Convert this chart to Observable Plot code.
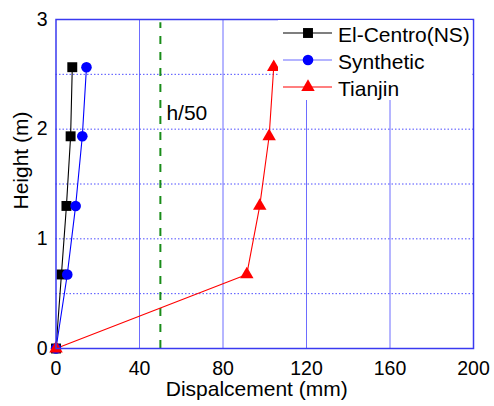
<!DOCTYPE html>
<html>
<head>
<meta charset="utf-8">
<script src="https://cdn.jsdelivr.net/npm/d3@7"></script>
<script src="https://cdn.jsdelivr.net/npm/@observablehq/plot@0.6"></script>
<style>
  html, body { margin: 0; padding: 0; background: #fff; }
  #wrap { position: relative; width: 494px; height: 406px; }
  #wrap svg { display: block; }
  #legend { position: absolute; left: 0; top: 0; pointer-events: none; }
</style>
</head>
<body>
<div id="wrap"></div>
<script>
// ---- data ----
const heights = [0, 0.675, 1.30, 1.935, 2.565];            // m
const elCentro = [0, 2.6, 5.0, 7.0, 7.8];                  // mm
const synthetic = [0, 5.4, 9.4, 12.6, 14.6];               // mm
const tianjin = [0, 91.4, 97.6, 102.1, 104.3];             // mm
const seriesNames = ["El-Centro(NS)", "Synthetic", "Tianjin"];
const seriesColors = ["#000000", "#0000ff", "#ff0000"];
const seriesSymbols = ["square", "circle", "triangle"];
const xTicks = [0, 40, 80, 120, 160, 200];
const yTicks = [0, 1, 2, 3];
const xGrid = [40, 80, 120, 160];
const yGrid = [0.5, 1, 1.5, 2, 2.5];
const limitX = 50;          // h/50 drift limit (mm)
const limitLabel = "h/50";
const limitLabelY = 2.08;
const xLabel = "Dispalcement (mm)";
const yLabel = "Height (m)";

const seriesValues = [elCentro, synthetic, tianjin];
const rows = seriesValues.flatMap((vals, si) =>
  vals.map((v, i) => ({series: seriesNames[si], x: v, y: heights[i]})));

const font = "'Liberation Sans', Arial, sans-serif";
const symbolR = {square: 5.6, circle: 5.3, triangle: 5.0};

const marks = [
  Plot.ruleX(xGrid, {stroke: "#6d6dff", strokeWidth: 1}),
  Plot.ruleY(yGrid, {stroke: "#4d4dff", strokeWidth: 1, strokeDasharray: "1.5,2"}),
  Plot.ruleX([limitX], {stroke: "#198c19", strokeWidth: 2, strokeDasharray: "8,8", y1: 0, y2: 2.97}),
  Plot.text([limitLabel], {x: limitX, y: limitLabelY, text: d => d, textAnchor: "start", dx: 6,
    fontSize: 21, fill: "#000", lineAnchor: "bottom"}),
];
seriesNames.forEach((name, si) => {
  const data = rows.filter(d => d.series === name);
  marks.push(Plot.line(data, {x: "x", y: "y", stroke: seriesColors[si], strokeWidth: 1.1}));
});
seriesNames.forEach((name, si) => {
  const data = rows.filter(d => d.series === name);
  marks.push(Plot.dot(data, {x: "x", y: "y", symbol: () => seriesSymbols[si],
    r: symbolR[seriesSymbols[si]], fill: seriesColors[si], stroke: "none"}));
});
marks.push(Plot.frame({stroke: "#3a3af0", strokeWidth: 1.5}));
marks.push(Plot.text([xLabel], {text: d => d, frameAnchor: "bottom", textAnchor: "middle", lineAnchor: "middle",
  dy: 40.8, dx: -8, fontSize: 21, fill: "#000"}));
marks.push(Plot.text([yLabel], {text: d => d, frameAnchor: "left", textAnchor: "middle", rotate: -90, lineAnchor: "middle",
  dx: -35.2, dy: -23.5, fontSize: 21, fill: "#000"}));

const chart = Plot.plot({
  width: 494,
  height: 406,
  marginLeft: 55.5,
  marginRight: 21,
  marginTop: 19,
  marginBottom: 58,
  style: {fontFamily: font, fontSize: "19.5px", color: "#000", background: "#fff"},
  x: {domain: [0, 200], ticks: xTicks, tickSize: 0, tickPadding: 12.5, tickFormat: d3.format("d"), label: null},
  y: {domain: [0, 3], ticks: yTicks, tickSize: 0, tickPadding: 8.5, tickFormat: d3.format("d"), label: null},
  symbol: {domain: seriesSymbols, range: seriesSymbols},
  marks
});

const wrap = document.getElementById("wrap");
wrap.appendChild(chart);

// ---- legend overlay (white box covering the grid in the upper right) ----
const lg = d3.select(wrap).append("svg")
  .attr("id", "legend").attr("width", 494).attr("height", 406);
lg.append("rect").attr("x", 278).attr("y", 20).attr("width", 194.3).attr("height", 80).attr("fill", "#fff");
seriesNames.forEach((name, si) => {
  const cy = 33 + si * 27;
  lg.append("line").attr("x1", 283).attr("x2", 332).attr("y1", cy).attr("y2", cy)
    .attr("stroke", si === 1 ? "#6b6bff" : seriesColors[si]).attr("stroke-width", 1.2);
  const sym = {square: d3.symbolSquare, circle: d3.symbolCircle, triangle: d3.symbolTriangle}[seriesSymbols[si]];
  const r = symbolR[seriesSymbols[si]];
  lg.append("path").attr("d", d3.symbol(sym, Math.PI * r * r)())
    .attr("transform", `translate(308,${cy})`).attr("fill", seriesColors[si]);
  lg.append("text").attr("x", 338).attr("y", cy + 8.5).text(name)
    .attr("font-family", font).attr("font-size", 21).attr("fill", "#000");
});
</script>
</body>
</html>
